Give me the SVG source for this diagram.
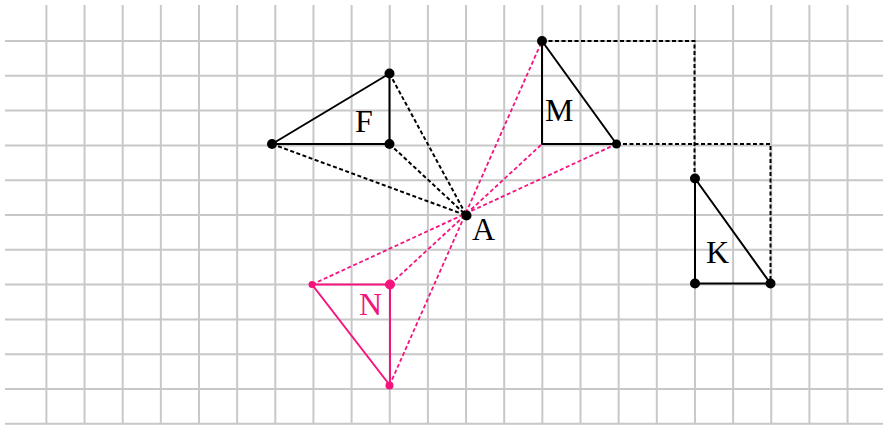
<svg xmlns="http://www.w3.org/2000/svg" width="883" height="425" viewBox="0 0 883 425">
<style>
.grid{stroke:#c8c8c8;stroke-width:2;fill:none}
.solid{stroke:#000;stroke-width:2;fill:none;stroke-linejoin:round}
.dash{stroke:#000;stroke-width:2;fill:none;stroke-dasharray:4 2.5}
.pdash{stroke:#f5147d;stroke-width:1.8;fill:none;stroke-dasharray:4 2.5}
.psolid{stroke:#f5147d;stroke-width:2;fill:none;stroke-linejoin:round}
.dot{fill:#000}
.pdot{fill:#f5147d}
.lbl{font-family:"Liberation Serif","Times New Roman",serif;font-size:32px;fill:#000}
.plbl{font-family:"Liberation Serif","Times New Roman",serif;font-size:32px;fill:#f5147d}
</style>
<rect width="883" height="425" fill="#fff"/>
<g id="grid">
<path class="grid" d="M46.4 5V424M84.55 5V424M122.7 5V424M160.85 5V424M199 5V424M237.15 5V424M275.3 5V424M313.45 5V424M351.6 5V424M389.75 5V424M427.9 5V424M466.05 5V424M504.2 5V424M542.35 5V424M580.5 5V424M618.65 5V424M656.8 5V424M694.95 5V424M733.1 5V424M771.25 5V424M809.4 5V424M847.55 5V424"/>
<path class="grid" d="M5 41H883M5 75.8H883M5 110.6H883M5 145.4H883M5 180.2H883M5 215H883M5 249.8H883M5 284.6H883M5 319.4H883M5 354.2H883M5 389H883M5 423.8H883"/>
</g>
<g id="connectors">
<path class="dash" d="M272 144L466.5 215.5M389.5 73.5L466.5 215.5M389.5 144L466.5 215.5"/>
<path class="dash" d="M542 41H694.5V178.5M616.5 144H770.5V283.5"/>
<path class="pdash" d="M312 284.5L616.5 144M390 284.5L542 144M389.5 385.5L542 41"/>
</g>
<g id="F">
<path class="solid" d="M272 144L389.5 73.5V144Z"/>
<circle class="dot" cx="272" cy="144" r="5"/>
<circle class="dot" cx="389.5" cy="73.5" r="5"/>
<circle class="dot" cx="389.5" cy="144" r="5"/>
<text class="lbl" x="355" y="132">F</text>
</g>
<g id="M">
<path class="solid" d="M542 41V144H616.5Z"/>
<circle class="dot" cx="542" cy="41" r="5"/>
<circle class="dot" cx="616.5" cy="144" r="4.5"/>
<text class="lbl" x="545" y="121">M</text>
</g>
<g id="K">
<path class="solid" d="M695 178.5V283.5H770.5Z"/>
<circle class="dot" cx="695" cy="178.5" r="5"/>
<circle class="dot" cx="695" cy="283.5" r="5"/>
<circle class="dot" cx="770.5" cy="283.5" r="5"/>
<text class="lbl" x="706" y="263">K</text>
</g>
<g id="N">
<path class="psolid" d="M312 284.5H390V385.5Z"/>
<circle class="pdot" cx="312" cy="284.5" r="3.5"/>
<circle class="pdot" cx="390" cy="284.5" r="5"/>
<circle class="pdot" cx="389.5" cy="385.5" r="4"/>
<text class="plbl" x="359" y="315">N</text>
</g>
<g id="A">
<circle class="dot" cx="466.5" cy="215.5" r="5"/>
<text class="lbl" x="472" y="240">A</text>
</g>
</svg>
